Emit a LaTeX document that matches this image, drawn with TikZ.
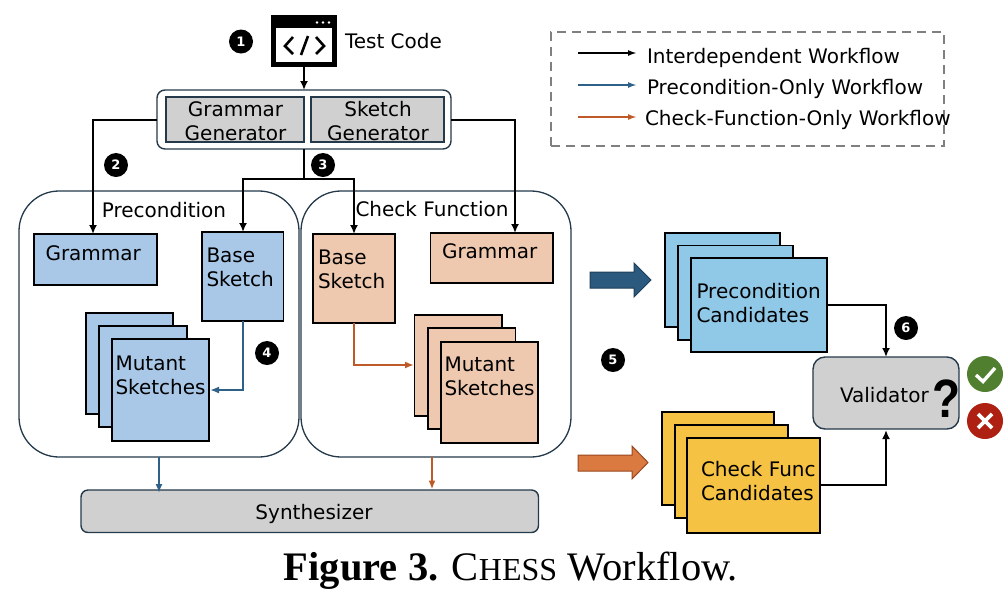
\documentclass[tikz,border=0pt]{standalone}
\usepackage{fontspec}
\setmainfont{DejaVu Sans}
\newfontfamily\capfont{Liberation Serif}
\newfontfamily\qfont{Liberation Sans}
\usetikzlibrary{arrows.meta}
\definecolor{edgeD}{HTML}{24394A}
\definecolor{fillG}{HTML}{D0D0D0}
\definecolor{fillB}{HTML}{A9C8E8}
\definecolor{fillO}{HTML}{EEC9B0}
\definecolor{fillC}{HTML}{90C8E8}
\definecolor{fillY}{HTML}{F6C243}
\definecolor{lineB}{HTML}{2F6188}
\definecolor{lineO}{HTML}{BE5A28}
\definecolor{bigB}{HTML}{2C5A7E}
\definecolor{bigO}{HTML}{DB7A40}
\definecolor{okG}{HTML}{4F7F2F}
\definecolor{noR}{HTML}{AE2012}
\newcommand\bx[7]{%
  \pgfmathsetmacro\bxW{abs(#5-#3)}\pgfmathsetmacro\bxH{abs(#6-#4)}%
  \pgfmathsetmacro\bxX{(#3+#5)/2}\pgfmathsetmacro\bxY{(#4+#6)/2}%
  \node[#2,minimum width=\bxW pt,minimum height=\bxH pt] (#1) at (\bxX,\bxY) {#7};}
\tikzset{
  every node/.style={inner sep=0pt,outer sep=0pt},
  base/.style={draw=black,line width=1.5pt,rectangle},
  txt/.style={font=\fontsize{20}{24}\selectfont,align=left,text=black},
  txtc/.style={font=\fontsize{20}{24}\selectfont,align=center,text=black},
  bluebox/.style={base,fill=fillB},
  orangebox/.style={base,fill=fillO},
  candbox/.style={base,fill=fillC},
  yellowbox/.style={base,fill=fillY},
  genbox/.style={draw=edgeD,line width=1.5pt,fill=fillG},
  group/.style={draw=edgeD,line width=1.3pt,rounded corners=40pt,fill=white},
  graybox/.style={draw=edgeD,line width=1.4pt,fill=fillG},
  flowK/.style={draw=black,line width=2.2pt,-{Latex[length=9pt,width=8pt]}},
  flowB/.style={draw=lineB,line width=2.2pt,-{Latex[length=9pt,width=7pt]}},
  flowO/.style={draw=lineO,line width=2.2pt,-{Latex[length=9pt,width=7pt]}},
  badge/.style={circle,fill=black,minimum size=24pt,text=white,font=\fontsize{13}{13}\selectfont\bfseries},
  legK/.style={draw=black,line width=1.8pt,-{Latex[length=9pt,width=6pt]}},
  legB/.style={draw=lineB,line width=1.8pt,-{Latex[length=9pt,width=6pt]}},
  legO/.style={draw=lineO,line width=1.8pt,-{Latex[length=9pt,width=6pt]}},
}
\begin{document}
\begin{tikzpicture}[x=1pt,y=-1pt]
\useasboundingbox (0,0) rectangle (1008,598);
% test code icon
\bx{icon}{draw=black,line width=5pt,fill=white}{273.5}{17.5}{334.5}{64.5}{}
\fill[black] (icon.north west) rectangle (334.5,28);
\fill[white] (317,22.5) circle (1.4) (323,22.5) circle (1.4) (329,22.5) circle (1.4);
\draw[black,line width=2.6pt] (293,37) -- (285,46) -- (293,54);
\draw[black,line width=2.6pt] (316,37) -- (324,46) -- (316,54);
\draw[black,line width=2.6pt] (308,36) -- (301,55);
\node[txt,anchor=west] (testcode) at (345,41.5) {Test Code};
\node[badge] (b1) at (241,41.5) {1};
% generators
\bx{gen}{draw=edgeD,line width=1.4pt,rounded corners=8pt,fill=white}{157}{90}{451}{149}{}
\bx{gengram}{genbox}{166}{97}{304}{142}{}
\bx{gensk}{genbox}{311}{97}{444}{142}{}
\node[txtc] (gengramt) at (235.5,121) {Grammar\\Generator};
\node[txtc] (genskt) at (378,121) {Sketch\\Generator};
\draw[flowK] (icon.south) -- (gen.north -| icon.south);
% groups
\bx{pre}{group}{19}{191}{299}{457}{}
\bx{chk}{group}{301}{191}{571}{457}{}
\node[txtc] (pretxt) at (164,210) {Precondition};
\node[txtc] (chktxt) at (432,209) {Check Function};
% precondition contents
\bx{pgram}{bluebox}{34}{234}{157}{285}{}
\node[txt,anchor=west] (pgramt) at (45.5,253) {Grammar};
\bx{pbase}{bluebox}{202}{232}{283.5}{321}{}
\node[txt,anchor=west] (pbaset) at (206.5,267) {Base\\Sketch};
\bx{pm1}{bluebox}{86}{313}{173}{414}{}
\bx{pm2}{bluebox}{99}{326}{187}{427}{}
\bx{pm3}{bluebox}{112}{339}{209}{441}{}
\node[txt,anchor=west] (pmt) at (115.5,375) {Mutant\\Sketches};
% check contents
\bx{cbase}{orangebox}{313}{234}{395}{323}{}
\node[txt,anchor=west] (cbaset) at (318,269) {Base\\Sketch};
\bx{cgram}{orangebox}{430.5}{233}{553}{283}{}
\node[txt,anchor=west] (cgramt) at (442,251) {Grammar};
\bx{cm1}{orangebox}{414.5}{315}{502}{416}{}
\bx{cm2}{orangebox}{428}{328}{515.5}{429}{}
\bx{cm3}{orangebox}{441}{342}{538}{443}{}
\node[txt,anchor=west] (cmt) at (444.5,376) {Mutant\\Sketches};
% connectors from generators
\coordinate (inPG) at (93,234);
\coordinate (inCG) at (515,233);
\coordinate (inPB) at (243,232);
\coordinate (inCB) at (354,234);
\coordinate (junc) at (304,179);
\draw[flowK] (gen.west |- 0,120) -| (inPG);
\draw[flowK] (gen.east |- 0,120) -| (inCG);
\draw[black,line width=2.2pt] (gen.south -| junc) -- (junc);
\draw[flowK] (junc) -| (inPB);
\draw[flowK] (junc) -| (inCB);
\node[badge] (b2) at (116,165) {2};
\node[badge] (b3) at (323,165) {3};
% inner flows
\coordinate (pbOut) at (243,321);
\coordinate (pmIn) at (210,390);
\draw[flowB] (pbOut) |- (pmIn);
\coordinate (cbOut) at (354,323);
\coordinate (cmIn) at (414,365);
\draw[flowO] (cbOut) |- (cmIn);
\node[badge] (b4) at (267,353) {4};
% synthesizer
\bx{syn}{graybox,rounded corners=7pt}{81}{490}{538.5}{532.5}{}
\node[txtc] (synt) at (314,514) {Synthesizer};
\coordinate (preOut) at (159,457);
\coordinate (preIn) at (159,493);
\coordinate (chkOut) at (432,457);
\coordinate (chkIn) at (432,489.5);
\draw[flowB] (preOut) -- (preIn);
\draw[flowO] (chkOut) -- (chkIn);
% big arrows
\draw[draw=bigB!70!black,fill=bigB,line width=1pt] (590,272) -- (634,272) -- (634,263) -- (651,280) -- (634,297) -- (634,288) -- (590,288) -- cycle;
\draw[draw=lineO!80!black,fill=bigO,line width=1pt] (578,455) -- (632,455) -- (632,446) -- (648,462.5) -- (632,479) -- (632,471) -- (578,471) -- cycle;
\node[badge] (b5) at (613,360) {5};
% candidates
\bx{pc1}{candbox}{665}{233}{780}{327}{}
\bx{pc2}{candbox}{678}{245.5}{793}{340}{}
\bx{pc3}{candbox}{691}{258}{827}{352}{}
\node[txt,anchor=west] (pct) at (696.5,303) {Precondition\\Candidates};
\bx{yc1}{yellowbox}{662}{412}{774}{505}{}
\bx{yc2}{yellowbox}{675}{425}{788}{518}{}
\bx{yc3}{yellowbox}{687}{438}{820}{533}{}
\node[txt,anchor=west] (yct) at (701,481) {Check Func\\Candidates};
% validator
\bx{val}{graybox,rounded corners=12pt}{813}{357}{959}{429}{}
\node[txt,anchor=west] (valt) at (840,395) {Validator};
\node[font=\qfont\fontsize{54}{54}\selectfont\bfseries] (qm) at (946.5,398.5) {\scalebox{.85}[1]{?}};
\coordinate (valT) at (886,357);
\coordinate (valB) at (886,430);
\coordinate (pcOut) at (827,305);
\coordinate (ycOut) at (820,485);
\draw[flowK] (pcOut) -| (valT);
\draw[flowK] (ycOut) -| (valB);
\node[badge] (b6) at (906,328) {6};
% verdicts
\node[circle,fill=okG,minimum size=36pt] (ok) at (985,374) {};
\draw[white,line width=3.4pt] (976,375) -- (983,381.5) -- (995,368);
\node[circle,fill=noR,minimum size=36pt] (no) at (985,421) {};
\draw[white,line width=3.6pt] (978,414) -- (992,428) (992,414) -- (978,428);
% legend
\bx{leg}{draw=gray,line width=1.6pt,dash pattern=on 9pt off 6pt}{551}{32}{944}{146}{}
\coordinate (l1a) at (578,53); \coordinate (l1b) at (637,53);
\coordinate (l2a) at (578,85); \coordinate (l2b) at (637,85);
\coordinate (l3a) at (578,117); \coordinate (l3b) at (637,117);
\draw[legK] (l1a) -- (l1b);
\draw[legB] (l2a) -- (l2b);
\draw[legO] (l3a) -- (l3b);
\node[txt,anchor=west] (l1t) at (647,57.5) {Interdependent Workflow};
\node[txt,anchor=west] (l2t) at (647,88.5) {Precondition-Only Workflow};
\node[txt,anchor=west] (l3t) at (645,119.5) {Check-Function-Only Workflow};
% caption
\node[font=\capfont\fontsize{40.5}{40.5}\selectfont] (cap) at (511,571) {\textbf{Figure 3.} C{\fontsize{32}{32}\selectfont HESS} Workflow.};
\end{tikzpicture}
\end{document}
